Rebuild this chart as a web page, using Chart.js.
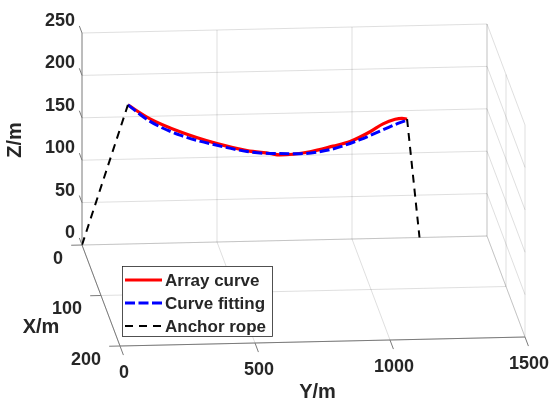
<!DOCTYPE html>
<html>
<head>
<meta charset="utf-8">
<script src="https://cdn.jsdelivr.net/npm/chart.js@4"></script>
<style>
  body { margin: 0; background: #fff; }
  canvas { display: block; }
</style>
</head>
<body>
<canvas id="chart" width="553" height="400"></canvas>
<script>
// axis ticks
const xTicks = [0, 100, 200];
const yTicks = [0, 500, 1000, 1500];
const zTicks = [0, 50, 100, 150, 200, 250];

// array curve (it sits in the X = 0 plane)
const arrayY = [170, 252, 363, 500, 611, 696, 733, 844, 930, 993, 1067, 1115, 1160, 1185, 1204];
const arrayZ = [164, 147, 131, 116, 107, 103, 101, 104, 110, 115, 126, 135, 140, 141, 140];

// fitted curve
const fitY = [170, 252, 363, 500, 611, 696, 807, 919, 1030, 1115, 1178, 1207];
const fitZ = [164, 144, 127, 114, 106, 103, 102, 106, 117, 128, 136, 139];

// anchor ropes
const ropeLeftY = [0, 170];
const ropeLeftZ = [0, 164];
const ropeRightY = [1204, 1250];
const ropeRightZ = [140, 0];

const seriesNames = ['Array curve', 'Curve fitting', 'Anchor rope'];

const xMax = 200, yMax = 1500, zMax = 250;
const TXT = '#262626';
const GRID = 'rgba(38,38,38,0.15)';
const AXIS = '#7a7a7a';

// 3D view -> flat view units (same units as the hidden scales)
function proj(X, Y, Z) {
  return { x: 82 + Y * 0.27 + X * 0.19, y: 245 - Y * 0.006 + X * 0.505 - Z * 0.848 };
}

function curve(ys, zs) {
  return ys.map((y, i) => proj(0, y, zs[i]));
}

function lineSet(a, b, color) {
  return { data: [proj(...a), proj(...b)], borderColor: color, borderWidth: 1, pointRadius: 0, showLine: true, order: 10 };
}

// box grid (back wall X=0, floor Z=0, side wall Y=yMax)
const gridSets = [];
zTicks.forEach(z => {
  gridSets.push(lineSet([0, 0, z], [0, yMax, z], GRID));
  gridSets.push(lineSet([0, yMax, z], [xMax, yMax, z], GRID));
});
yTicks.forEach(y => {
  if (y > 0) gridSets.push(lineSet([0, y, 0], [0, y, zMax], GRID));
  gridSets.push(lineSet([0, y, 0], [xMax, y, 0], GRID));
});
xTicks.forEach(x => {
  gridSets.push(lineSet([x, 0, 0], [x, yMax, 0], GRID));
  gridSets.push(lineSet([x, yMax, 0], [x, yMax, zMax], GRID));
});
// axis lines
const axisSets = [
  lineSet([0, 0, 0], [0, 0, zMax], AXIS),
  lineSet([0, 0, 0], [xMax, 0, 0], AXIS),
  lineSet([xMax, 0, 0], [xMax, yMax, 0], AXIS)
];
axisSets.forEach(d => d.order = 9);

const ropeStyle = { borderColor: '#000', borderWidth: 2, borderDash: [8, 6], pointRadius: 0, showLine: true, order: 1 };

const decor = {
  id: 'decor',
  afterDraw(chart) {
    const ctx = chart.ctx, sx = chart.scales.x, sy = chart.scales.y;
    const px = p => ({ x: sx.getPixelForValue(p.x), y: sy.getPixelForValue(p.y) });
    ctx.save();
    ctx.strokeStyle = AXIS;
    ctx.lineWidth = 1;
    ctx.fillStyle = TXT;
    ctx.font = 'bold 18px "Liberation Sans", Arial, sans-serif';
    ctx.textBaseline = 'middle';

    function tick(a, b) {
      const p = px(proj(...a)), q = px(proj(...b));
      ctx.beginPath(); ctx.moveTo(p.x, p.y); ctx.lineTo(q.x, q.y); ctx.stroke();
      return p;
    }
    // Z ticks
    ctx.textAlign = 'right';
    zTicks.forEach(z => {
      const p = tick([0, 0, z], [-14, 0, z]);
      ctx.fillText(String(z), p.x - 7, p.y - 12);
    });
    // X ticks
    xTicks.forEach(x => {
      const p = tick([x, 0, 0], [x, -40, 0]);
      ctx.fillText(String(x), p.x - 19, p.y + 14);
    });
    // Y ticks
    ctx.textAlign = 'center';
    yTicks.forEach(y => {
      const p = tick([xMax, y, 0], [xMax + 18, y, 0]);
      ctx.fillText(String(y), p.x + 4, p.y + 27);
    });

    // axis titles
    ctx.font = 'bold 20px "Liberation Sans", Arial, sans-serif';
    const zt = px(proj(0, 0, zMax / 2));
    ctx.save();
    ctx.translate(zt.x - 67, zt.y + 1);
    ctx.rotate(-Math.PI / 2);
    ctx.fillText('Z/m', 0, 0);
    ctx.restore();
    const xt = px(proj(xMax / 2, 0, 0));
    ctx.fillText('X/m', xt.x - 60, xt.y + 32);
    const yt = px(proj(xMax, yMax / 2, 0));
    ctx.fillText('Y/m', yt.x - 5, yt.y + 51);

    // legend
    const lx = 122, ly = 266, lw = 150, lh = 70;
    ctx.fillStyle = '#fff';
    ctx.fillRect(lx, ly, lw, lh);
    ctx.strokeStyle = '#262626';
    ctx.lineWidth = 0.8;
    ctx.strokeRect(lx + 0.5, ly + 0.5, lw, lh);
    const styles = [
      { c: '#ff0000', w: 3, d: [] },
      { c: '#0000ff', w: 3, d: [10, 3.5] },
      { c: '#000', w: 2, d: [8, 6] }
    ];
    ctx.font = 'bold 17px "Liberation Sans", Arial, sans-serif';
    ctx.textAlign = 'left';
    seriesNames.forEach((name, i) => {
      const yy = ly + 14 + i * 23;
      ctx.strokeStyle = styles[i].c;
      ctx.lineWidth = styles[i].w;
      ctx.setLineDash(styles[i].d);
      ctx.beginPath(); ctx.moveTo(lx + 3, yy); ctx.lineTo(lx + 40, yy); ctx.stroke();
      ctx.setLineDash([]);
      ctx.fillStyle = TXT;
      ctx.fillText(name, lx + 43, yy + 1);
    });
    ctx.restore();
  }
};

new Chart(document.getElementById('chart'), {
  type: 'scatter',
  data: {
    datasets: [
      ...gridSets,
      ...axisSets,
      { label: seriesNames[0], data: curve(arrayY, arrayZ), borderColor: '#ff0000', borderWidth: 3.2, cubicInterpolationMode: 'monotone', pointRadius: 0, showLine: true, order: 3 },
      { label: seriesNames[1], data: curve(fitY, fitZ), borderColor: '#0000ff', borderWidth: 3, borderDash: [10, 3.5], cubicInterpolationMode: 'monotone', pointRadius: 0, showLine: true, order: 2 },
      { label: seriesNames[2], data: curve(ropeLeftY, ropeLeftZ), ...ropeStyle },
      { label: seriesNames[2], data: curve(ropeRightY, ropeRightZ), ...ropeStyle }
    ]
  },
  options: {
    responsive: false,
    animation: false,
    layout: { padding: 0 },
    scales: {
      x: { type: 'linear', min: 0, max: 553, display: false },
      y: { type: 'linear', min: 0, max: 400, reverse: true, display: false }
    },
    plugins: { legend: { display: false }, tooltip: { enabled: false } }
  },
  plugins: [decor]
});
</script>
</body>
</html>
